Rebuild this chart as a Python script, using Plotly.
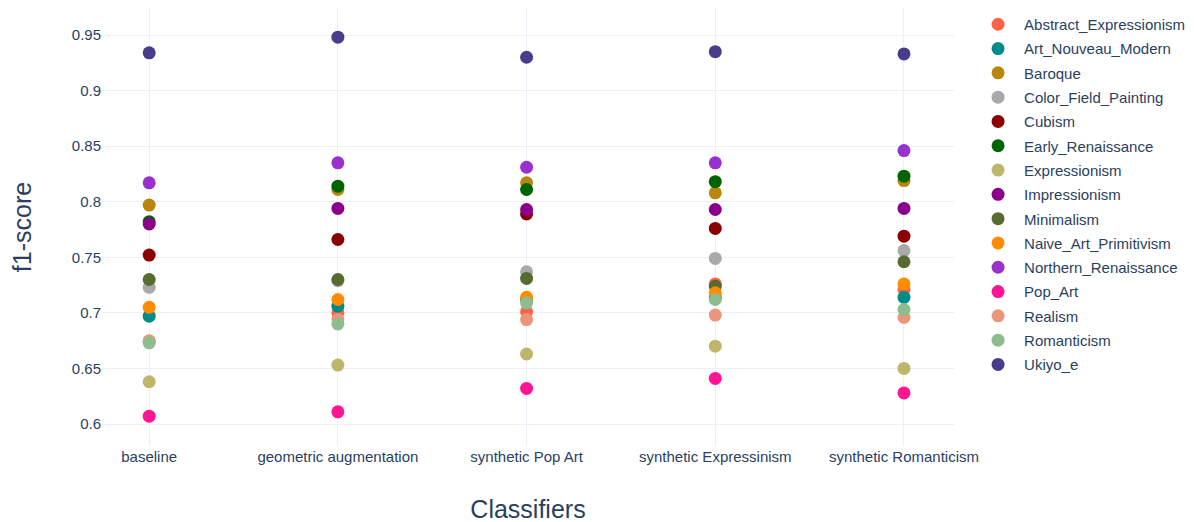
import plotly.graph_objects as go

classifiers = ["baseline", "geometric augmentation", "synthetic Pop Art",
               "synthetic Expressinism", "synthetic Romanticism"]

styles = ["Abstract_Expressionism", "Art_Nouveau_Modern", "Baroque", "Color_Field_Painting",
          "Cubism", "Early_Renaissance", "Expressionism", "Impressionism", "Minimalism",
          "Naive_Art_Primitivism", "Northern_Renaissance", "Pop_Art", "Realism",
          "Romanticism", "Ukiyo_e"]

colors = ["tomato", "darkcyan", "darkgoldenrod", "darkgray", "darkred", "darkgreen",
          "darkkhaki", "darkmagenta", "darkolivegreen", "darkorange", "darkorchid",
          "deeppink", "darksalmon", "darkseagreen", "darkslateblue"]

abstract_expressionism = [0.674, 0.700, 0.701, 0.726, 0.721]
art_nouveau_modern = [0.697, 0.706, 0.712, 0.714, 0.714]
baroque = [0.797, 0.811, 0.817, 0.808, 0.819]
color_field_painting = [0.723, 0.729, 0.737, 0.749, 0.756]
cubism = [0.752, 0.766, 0.789, 0.776, 0.769]
early_renaissance = [0.782, 0.814, 0.811, 0.818, 0.823]
expressionism = [0.638, 0.653, 0.663, 0.670, 0.650]
impressionism = [0.780, 0.794, 0.793, 0.793, 0.794]
minimalism = [0.730, 0.730, 0.731, 0.724, 0.746]
naive_art_primitivism = [0.705, 0.712, 0.714, 0.718, 0.726]
northern_renaissance = [0.817, 0.835, 0.831, 0.835, 0.846]
pop_art = [0.607, 0.611, 0.632, 0.641, 0.628]
realism = [0.675, 0.694, 0.694, 0.698, 0.696]
romanticism = [0.673, 0.690, 0.709, 0.712, 0.703]
ukiyo_e = [0.934, 0.948, 0.930, 0.935, 0.933]

series = [abstract_expressionism, art_nouveau_modern, baroque, color_field_painting,
          cubism, early_renaissance, expressionism, impressionism, minimalism,
          naive_art_primitivism, northern_renaissance, pop_art, realism,
          romanticism, ukiyo_e]

fig = go.Figure()
for name, col, vals in zip(styles, colors, series):
    fig.add_trace(go.Scatter(x=classifiers, y=vals, mode="markers", name=name,
                             legendgroup=name,
                             marker=dict(color=col, size=13)))

fig.update_layout(
    template="plotly_white",
    width=1194, height=522,
    margin=dict(l=94, r=248, t=0, b=84, autoexpand=False),
    font=dict(family="Liberation Sans, Arial, sans-serif", size=15, color="#2a3f5f"),
    xaxis=dict(title=dict(text="Classifiers", font=dict(size=25), standoff=36),
               range=[-0.25, 4.265], automargin=False),
    yaxis=dict(title=dict(text="f1-score", font=dict(size=25), standoff=33),
               range=[0.58021, 0.97429], automargin=False),
    legend=dict(font=dict(size=15), x=1.0212, xanchor="left", y=1.0, yanchor="top",
                tracegroupgap=1.8, itemwidth=42),
)

fig.write_html("out.html")
